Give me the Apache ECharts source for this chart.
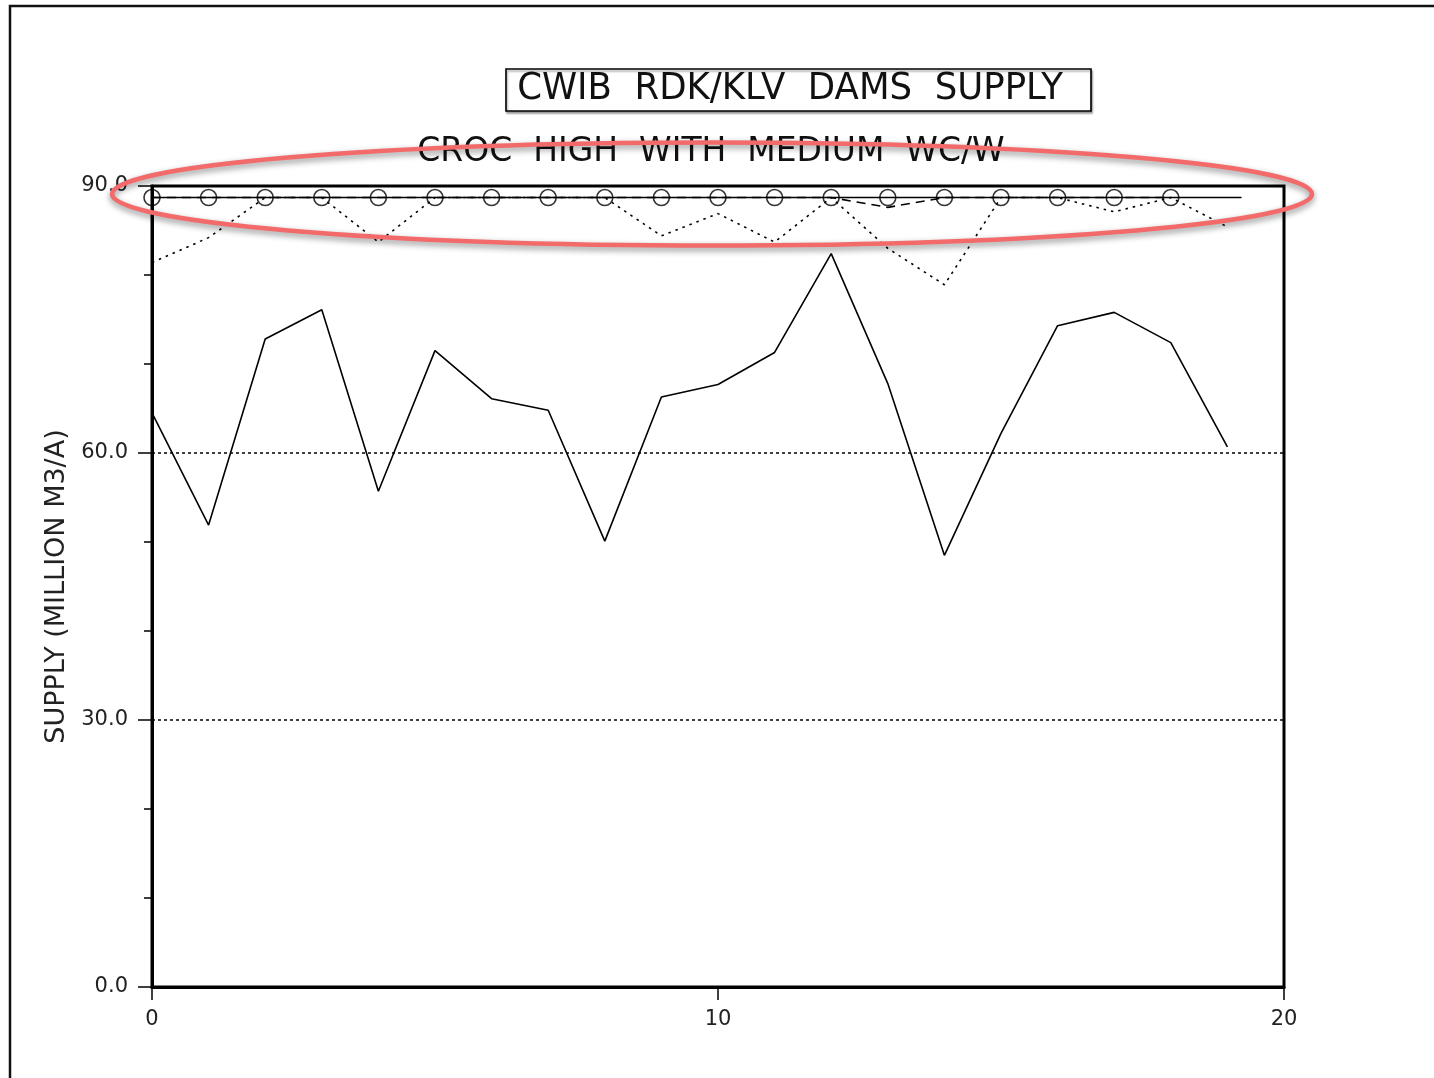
<!DOCTYPE html>
<html>
<head>
<meta charset="utf-8">
<title>CWIB RDK/KLV DAMS SUPPLY</title>
<script src="https://cdn.jsdelivr.net/npm/echarts@6/dist/echarts.min.js"></script>
<style>
  html, body { margin: 0; padding: 0; background: #fff; }
  #chart { width: 1434px; height: 1078px; }
</style>
</head>
<body>
<div id="chart"></div>
<script>
// Simulation year index (x) and supply in million m3/a (y)
const years = [0, 1, 2, 3, 4, 5, 6, 7, 8, 9, 10, 11, 12, 13, 14, 15, 16, 17, 18, 19];

// Solid line: supply trace
const supplySolid = [64.5, 51.9, 72.8, 76.1, 55.7, 71.5, 66.1, 64.8, 50.1, 66.3,
                     67.7, 71.3, 82.4, 67.8, 48.5, 62.2, 74.3, 75.8, 72.4, 60.7];

// Dotted line: supply trace
const supplyDotted = [81.4, 84.2, 88.7, 88.7, 83.7, 88.7, 88.7, 88.7, 88.7, 84.4,
                      86.9, 83.7, 88.7, 83.0, 78.9, 88.7, 88.7, 87.1, 88.7, 85.4];

// Dashed line: supply trace (years 0..18)
const supplyDashed = [88.7, 88.7, 88.7, 88.7, 88.7, 88.7, 88.7, 88.7, 88.7, 88.7,
                      88.7, 88.7, 88.7, 87.6, 88.7, 88.7, 88.7, 88.7, 88.7];

// Circle markers (years 0..18)
const circleYears = [0, 1, 2, 3, 4, 5, 6, 7, 8, 9, 10, 11, 12, 13, 14, 15, 16, 17, 18];
const circleValues = [88.7, 88.7, 88.7, 88.7, 88.7, 88.7, 88.7, 88.7, 88.7, 88.7,
                      88.7, 88.7, 88.7, 88.7, 88.7, 88.7, 88.7, 88.7, 88.7];

// Horizontal reference level, drawn between two x positions
const refLineX = [-0.25, 19.25];
const refLineY = [88.7, 88.7];

// Axis ticks
const xTicks = [0, 10, 20];
const yTicks = [0, 30, 60, 90];

const FONT = '"DejaVu Sans", "Liberation Sans", sans-serif';

const chart = echarts.init(document.getElementById('chart'), null, { renderer: 'canvas' });

const pairs = (xs, ys) => xs.map((x, i) => [x, ys[i]]);

const option = {
  animation: false,
  backgroundColor: '#ffffff',
  grid: {
    left: 152, top: 186, width: 1132, height: 801,
    show: true, borderColor: '#000', borderWidth: 3, backgroundColor: 'transparent'
  },
  xAxis: {
    type: 'value',
    min: xTicks[0], max: xTicks[xTicks.length - 1], interval: 10,
    axisLine: { show: true, lineStyle: { color: '#000', width: 3 } },
    axisTick: { show: true, length: 13, lineStyle: { color: '#000', width: 1.5 } },
    axisLabel: { margin: 22, color: '#222', fontFamily: FONT, fontSize: 21 },
    splitLine: { show: false }
  },
  yAxis: {
    type: 'value',
    min: yTicks[0], max: yTicks[yTicks.length - 1], interval: 30,
    name: 'SUPPLY (MILLION M3/A)',
    nameLocation: 'middle',
    nameGap: 72,
    nameTextStyle: { color: '#222', fontFamily: FONT, fontSize: 27 },
    axisLine: { show: true, lineStyle: { color: '#000', width: 3 } },
    axisTick: { show: true, length: 14, lineStyle: { color: '#000', width: 1.5 } },
    minorTick: { show: true, splitNumber: 3, length: 8, lineStyle: { color: '#000', width: 1.5 } },
    axisLabel: {
      margin: 24, color: '#222', fontFamily: FONT, fontSize: 21,
      formatter: v => v.toFixed(1)
    },
    splitLine: { show: true, lineStyle: { color: '#000', width: 1.5, type: [3, 3] } }
  },
  series: [
    {
      name: 'reference level',
      type: 'line',
      data: pairs(refLineX, refLineY),
      clip: false,
      showSymbol: false,
      lineStyle: { color: '#000', width: 1.6 },
      z: 3
    },
    {
      name: 'dashed supply',
      type: 'line',
      data: pairs(circleYears, supplyDashed),
      showSymbol: false,
      lineStyle: { color: '#000', width: 1.6, type: [9, 6] },
      z: 2
    },
    {
      name: 'dotted supply',
      type: 'line',
      data: pairs(years, supplyDotted),
      showSymbol: false,
      lineStyle: { color: '#000', width: 1.6, type: [2.5, 5] },
      z: 2
    },
    {
      name: 'solid supply',
      type: 'line',
      data: pairs(years, supplySolid),
      showSymbol: false,
      lineStyle: { color: '#000', width: 1.6 },
      z: 2
    },
    {
      name: 'markers',
      type: 'scatter',
      data: pairs(circleYears, circleValues),
      symbol: 'circle',
      symbolSize: 16,
      itemStyle: { color: 'rgba(255,255,255,0)', borderColor: '#000', borderWidth: 1.6 },
      z: 4
    }
  ],
  graphic: [
    // page frame
    {
      type: 'polyline',
      shape: { points: [[10, 1078], [10, 6], [1434, 6]] },
      style: { stroke: '#111', lineWidth: 2.5, fill: null },
      z: 10
    },
    // boxed main title
    {
      type: 'rect',
      shape: { x: 506, y: 69, width: 585, height: 42 },
      style: {
        stroke: '#000', lineWidth: 1.6, fill: '#fff',
        shadowColor: 'rgba(0,0,0,0.35)', shadowBlur: 2, shadowOffsetX: 1, shadowOffsetY: 2
      },
      z: 10
    },
    {
      type: 'text',
      x: 790, y: 89, scaleX: 0.96,
      style: {
        text: 'CWIB  RDK/KLV  DAMS  SUPPLY',
        font: '37px ' + FONT, fill: '#111',
        align: 'center', verticalAlign: 'middle'
      },
      z: 11
    },
    // subtitle
    {
      type: 'text',
      x: 711, y: 152, scaleX: 0.97,
      style: {
        text: 'CROC  HIGH  WITH  MEDIUM  WC/W',
        font: '34px ' + FONT, fill: '#111',
        align: 'center', verticalAlign: 'middle'
      },
      z: 11
    },
    // highlight ellipse around the top traces
    {
      type: 'ellipse',
      shape: { cx: 712, cy: 194, rx: 600, ry: 51.5 },
      style: {
        stroke: '#f26a6a', lineWidth: 4.5, fill: null,
        shadowColor: 'rgba(0,0,0,0.45)', shadowBlur: 6, shadowOffsetX: 0, shadowOffsetY: 3
      },
      z: 20
    }
  ]
};

chart.setOption(option);
</script>
</body>
</html>
